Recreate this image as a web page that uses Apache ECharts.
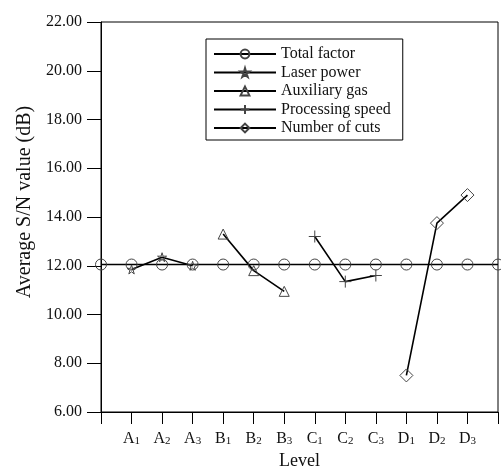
<!DOCTYPE html>
<html><head><meta charset="utf-8">
<script src="https://cdn.jsdelivr.net/npm/echarts@6/dist/echarts.min.js"></script>
<style>html,body{margin:0;padding:0;background:#fff}#c{width:501px;height:475px}</style>
</head><body><div id="c"></div>
<script>
// Data
const tickLabels = ['', 'A1','A2','A3','B1','B2','B3','C1','C2','C3','D1','D2','D3', ''];
const totalPos = [0,1,2,3,4,5,6,7,8,9,10,11,12,13];
const totalVal = [12.05,12.05,12.05,12.05,12.05,12.05,12.05,12.05,12.05,12.05,12.05,12.05,12.05,12.05];
const laserPos = [1,2,3];
const laserVal = [11.85,12.35,12.0];
const gasPos = [4,5,6];
const gasVal = [13.3,11.8,10.95];
const speedPos = [7,8,9];
const speedVal = [13.2,11.35,11.6];
const cutsPos = [10,11,12];
const cutsVal = [7.5,13.75,14.9];

const FF = '"Liberation Serif", "Times New Roman", serif';
const pair = (xs, ys) => xs.map((x,i)=>[x, ys[i]]);
const STAR = 'path://M50,0 L61,35 L98,35 L68,57 L79,91 L50,70 L21,91 L32,57 L2,35 L39,35 Z';
const PLUS = 'path://M5,0 L5,10 M0,5 L10,5';

function mk(name, data, symbol, size){
  return {
    name, type:'line', data, symbol, symbolSize:size, showAllSymbol:true,
    lineStyle:{color:'#000', width:1.6},
    itemStyle:{color:'rgba(255,255,255,0)', borderColor:'#444', borderWidth:1},
    emphasis:{disabled:true}, animation:false, clip:false, z: 2
  };
}

const chart = echarts.init(document.getElementById('c'), null, {renderer:'canvas'});
chart.setOption({
  animation:false,
  backgroundColor:'#fff',
  grid:{left:101, right:1, top:22, bottom:55, show:true, borderColor:'#000', borderWidth:1},
  legend:{
    orient:'vertical', left:206, top:39,
    itemWidth:62, itemHeight:11, itemGap:2.5,
    padding:[7,12,4,7],
    borderColor:'#000', borderWidth:1,
    textStyle:{fontFamily:FF, fontSize:16, lineHeight:16, color:'#111'},
    data:['Total factor','Laser power','Auxiliary gas','Processing speed','Number of cuts']
  },
  xAxis:{
    type:'value', min:0, max:13, interval:1,
    name:'Level', nameLocation:'middle', nameGap:40,
    nameTextStyle:{fontFamily:FF, fontSize:18, color:'#111'},
    axisLine:{lineStyle:{color:'#000', width:1}},
    axisTick:{show:true, length:12, inside:false, lineStyle:{color:'#000'}},
    splitLine:{show:false},
    axisLabel:{
      margin:18, showMinLabel:true, showMaxLabel:true,
      formatter:(v)=>{const t=tickLabels[Math.round(v)]||''; return t?('{m|'+t[0]+'}{s|'+t.slice(1)+'}'):'';},
      rich:{
        m:{fontFamily:FF, fontSize:16, color:'#111'},
        s:{fontFamily:FF, fontSize:11, color:'#111', padding:[6,0,0,0]}
      }
    }
  },
  yAxis:{
    type:'value', min:6, max:22, interval:2,
    name:'Average S/N value (dB)', nameLocation:'middle', nameGap:66,
    nameTextStyle:{fontFamily:FF, fontSize:20, color:'#111', padding:[0,0,0,30]},
    axisLine:{show:true, lineStyle:{color:'#000', width:1}},
    axisTick:{show:true, length:14, inside:false, lineStyle:{color:'#000'}},
    splitLine:{show:false},
    axisLabel:{margin:19, fontFamily:FF, fontSize:16, color:'#111', formatter:(v)=>v.toFixed(2)}
  },
  series:[
    mk('Total factor', pair(totalPos,totalVal), 'circle', 11),
    mk('Laser power', pair(laserPos,laserVal), STAR, 9),
    mk('Auxiliary gas', pair(gasPos,gasVal), 'triangle', 10),
    mk('Processing speed', pair(speedPos,speedVal), PLUS, 12),
    mk('Number of cuts', pair(cutsPos,cutsVal), 'diamond', 13)
  ]
});
</script></body></html>
